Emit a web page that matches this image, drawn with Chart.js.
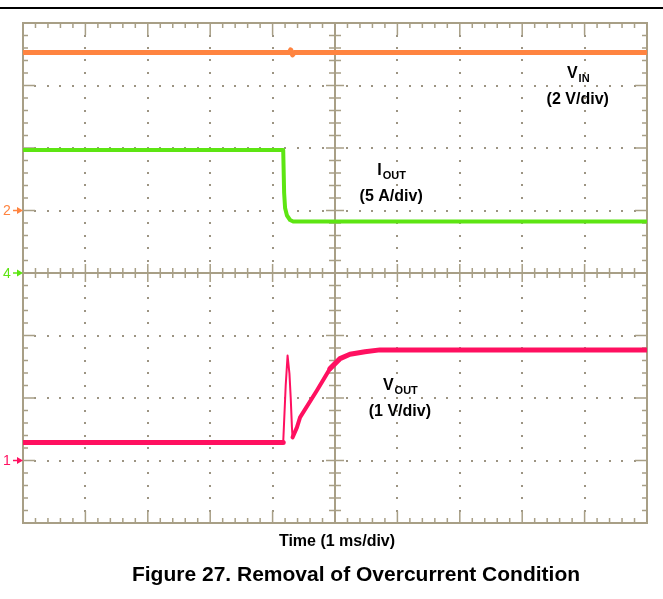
<!DOCTYPE html>
<html>
<head>
<meta charset="utf-8">
<script src="https://cdn.jsdelivr.net/npm/chart.js@4"></script>
<style>
  body { margin: 0; background: #fff; }
  canvas { display: block; }
</style>
</head>
<body>
<canvas id="scope" width="663" height="599"></canvas>
<script>
// trace data (time in ms, 1 ms/div)
const vinTime = [0, 4.27, 4.29, 4.32, 4.35, 10];
const vinVolts = [5.06, 5.06, 5.14, 4.98, 5.06, 5.06];

const ioutTime = [0, 4.17, 4.185, 4.2, 4.23, 4.28, 4.33, 10];
const ioutAmps = [9.84, 9.84, 6.4, 5.2, 4.6, 4.24, 4.12, 4.12];

const voutTime = [0, 4.17, 4.21, 4.24, 4.27, 4.29, 4.31, 4.32, 4.39, 4.44, 4.71, 4.92, 5.08, 5.24, 5.48, 5.72, 10];
const voutVolts = [0.29, 0.29, 1.2, 1.68, 1.39, 1.01, 0.53, 0.37, 0.53, 0.69, 1.12, 1.47, 1.63, 1.70, 1.74, 1.77, 1.77];

// graticule: 10 x 8 divisions, 5 minor steps per division
const xDivs = 10;
const yDivs = 8;
const minorSteps = 5;

const frameColor = '#a89f86';
const dotColor = '#9c9482';
const vinColor = '#ff8440';
const ioutColor = '#5de512';
const voutColor = '#ff1060';

function toPoints(xs, ys) {
    return xs.map((x, i) => ({ x: x, y: ys[i] }));
}

// Oscilloscope grid, frame ticks and centre cross
const graticule = {
    id: 'graticule',
    beforeDatasetsDraw(chart) {
        const { ctx, chartArea: a, scales } = chart;
        const xs = scales.x, ys = scales.yDiv;
        ctx.save();

        // dotted grid lines
        ctx.fillStyle = dotColor;
        for (let i = 1; i < xDivs; i++) {
            if (i === xDivs / 2) continue;
            const px = Math.round(xs.getPixelForValue(i));
            for (let j = 1; j < yDivs * minorSteps; j++) {
                const py = Math.round(ys.getPixelForValue(j / minorSteps));
                ctx.fillRect(px - 1, py - 1, 2, 2);
            }
        }
        for (let j = 1; j < yDivs; j++) {
            if (j === yDivs / 2) continue;
            const py = Math.round(ys.getPixelForValue(j));
            for (let i = 1; i < xDivs * minorSteps; i++) {
                const px = Math.round(xs.getPixelForValue(i / minorSteps));
                ctx.fillRect(px - 1, py - 1, 2, 2);
            }
        }

        ctx.strokeStyle = frameColor;
        ctx.lineWidth = 2;
        ctx.strokeRect(a.left, a.top, a.right - a.left, a.bottom - a.top);

        // centre cross
        const cx = xs.getPixelForValue(xDivs / 2);
        const cy = ys.getPixelForValue(yDivs / 2);
        ctx.beginPath();
        ctx.moveTo(cx, a.top); ctx.lineTo(cx, a.bottom);
        ctx.moveTo(a.left, cy); ctx.lineTo(a.right, cy);
        ctx.stroke();

        ctx.lineWidth = 1.5;
        ctx.beginPath();
        // ticks along x
        for (let i = 1; i < xDivs * minorSteps; i++) {
            const px = xs.getPixelForValue(i / minorSteps);
            const major = i % minorSteps === 0;
            const len = major ? 12 : 5;
            ctx.moveTo(px, a.top); ctx.lineTo(px, a.top + len);
            ctx.moveTo(px, a.bottom); ctx.lineTo(px, a.bottom - len);
            const half = major ? 9 : 5;
            ctx.moveTo(px, cy - half); ctx.lineTo(px, cy + half);
        }
        // ticks along y
        for (let j = 1; j < yDivs * minorSteps; j++) {
            const py = ys.getPixelForValue(j / minorSteps);
            const major = j % minorSteps === 0;
            const len = major ? 12 : 5;
            ctx.moveTo(a.left, py); ctx.lineTo(a.left + len, py);
            ctx.moveTo(a.right, py); ctx.lineTo(a.right - len, py);
            const half = major ? 9 : 6;
            ctx.moveTo(cx - half, py); ctx.lineTo(cx + half, py);
        }
        ctx.stroke();
        ctx.restore();
    }
};

// labels, channel markers, top rule and captions
const annotations = {
    id: 'annotations',
    afterDraw(chart) {
        const { ctx, chartArea: a, scales } = chart;
        const xs = scales.x, ys = scales.yDiv;
        ctx.save();

        // rule across the top of the page
        ctx.fillStyle = '#000';
        ctx.fillRect(0, 7, chart.width, 2);

        // channel ground markers
        const markers = [
            { label: '2', color: vinColor, y: scales.yVin.getPixelForValue(0) },
            { label: '4', color: ioutColor, y: scales.yI.getPixelForValue(0) },
            { label: '1', color: voutColor, y: scales.yV.getPixelForValue(0) }
        ];
        ctx.font = '14px "Liberation Sans", Arial, sans-serif';
        ctx.textBaseline = 'middle';
        ctx.textAlign = 'left';
        markers.forEach(m => {
            ctx.fillStyle = m.color;
            ctx.strokeStyle = m.color;
            ctx.fillText(m.label, 3, m.y + 1);
            ctx.lineWidth = 1.5;
            ctx.beginPath();
            ctx.moveTo(13, m.y); ctx.lineTo(a.left - 2, m.y);
            ctx.stroke();
            ctx.beginPath();
            ctx.moveTo(a.left, m.y);
            ctx.lineTo(a.left - 6, m.y - 3.5);
            ctx.lineTo(a.left - 6, m.y + 3.5);
            ctx.closePath();
            ctx.fill();
        });

        // trace labels: name with subscript, then scale
        const labels = [
            { main: 'V', sub: 'IN', scale: '(2 V/div)', x: 8.89, y: 7.12 },
            { main: 'I', sub: 'OUT', scale: '(5 A/div)', x: 5.9, y: 5.57 },
            { main: 'V', sub: 'OUT', scale: '(1 V/div)', x: 6.04, y: 2.13 }
        ];
        ctx.fillStyle = '#000';
        ctx.textBaseline = 'alphabetic';
        labels.forEach(l => {
            const cx = xs.getPixelForValue(l.x);
            const by = ys.getPixelForValue(l.y);
            ctx.font = 'bold 16px "Liberation Sans", Arial, sans-serif';
            const wMain = ctx.measureText(l.main).width;
            ctx.font = 'bold 11px "Liberation Sans", Arial, sans-serif';
            const wSub = ctx.measureText(l.sub).width;
            const left = cx - (wMain + wSub) / 2;
            ctx.textAlign = 'left';
            ctx.font = 'bold 16px "Liberation Sans", Arial, sans-serif';
            ctx.fillText(l.main, left, by);
            ctx.font = 'bold 11px "Liberation Sans", Arial, sans-serif';
            ctx.fillText(l.sub, left + wMain + 1, by + 4);
            ctx.font = 'bold 16px "Liberation Sans", Arial, sans-serif';
            ctx.textAlign = 'center';
            ctx.fillText(l.scale, cx, by + 26);
        });

        ctx.textAlign = 'center';
        ctx.font = 'bold 16px "Liberation Sans", Arial, sans-serif';
        ctx.fillText('Time (1 ms/div)', (a.left + a.right) / 2 + 2, a.bottom + 23);
        ctx.font = 'bold 21px "Liberation Sans", Arial, sans-serif';
        ctx.fillText('Figure 27. Removal of Overcurrent Condition', 356, a.bottom + 58);
        ctx.restore();
    }
};

// thin pen through the fast glitch, wide noisy band elsewhere
function spikeWidth(seg) {
    const x0 = seg.p0.parsed.x;
    if (x0 >= 4.17 && x0 < 4.32) return 2;
    if (x0 >= 4.32 && x0 < 4.92) return 4;
    return undefined;
}

const ctx = document.getElementById('scope').getContext('2d');
new Chart(ctx, {
    type: 'line',
    data: {
        datasets: [
            {
                label: 'VIN',
                data: toPoints(vinTime, vinVolts),
                yAxisID: 'yVin',
                borderColor: vinColor,
                borderWidth: 5
            },
            {
                label: 'IOUT',
                data: toPoints(ioutTime, ioutAmps),
                yAxisID: 'yI',
                borderColor: ioutColor,
                borderWidth: 4
            },
            {
                label: 'VOUT',
                data: toPoints(voutTime, voutVolts),
                yAxisID: 'yV',
                borderColor: voutColor,
                borderWidth: 5,
                segment: { borderWidth: spikeWidth }
            }
        ]
    },
    options: {
        responsive: false,
        animation: false,
        devicePixelRatio: 1,
        layout: {
            padding: { left: 23, top: 23, right: 16, bottom: 76 }
        },
        elements: {
            point: { radius: 0 },
            line: { tension: 0, borderJoinStyle: 'round', borderCapStyle: 'round' }
        },
        scales: {
            x: { type: 'linear', min: 0, max: xDivs, display: false },
            yDiv: { type: 'linear', min: 0, max: yDivs, display: false },
            // each channel: ground reference division and volts/amps per div
            yV: { type: 'linear', min: -1, max: 7, display: false },
            yVin: { type: 'linear', min: -10, max: 6, display: false },
            yI: { type: 'linear', min: -20, max: 20, display: false }
        },
        plugins: {
            legend: { display: false },
            tooltip: { enabled: false }
        }
    },
    plugins: [graticule, annotations]
});
</script>
</body>
</html>
